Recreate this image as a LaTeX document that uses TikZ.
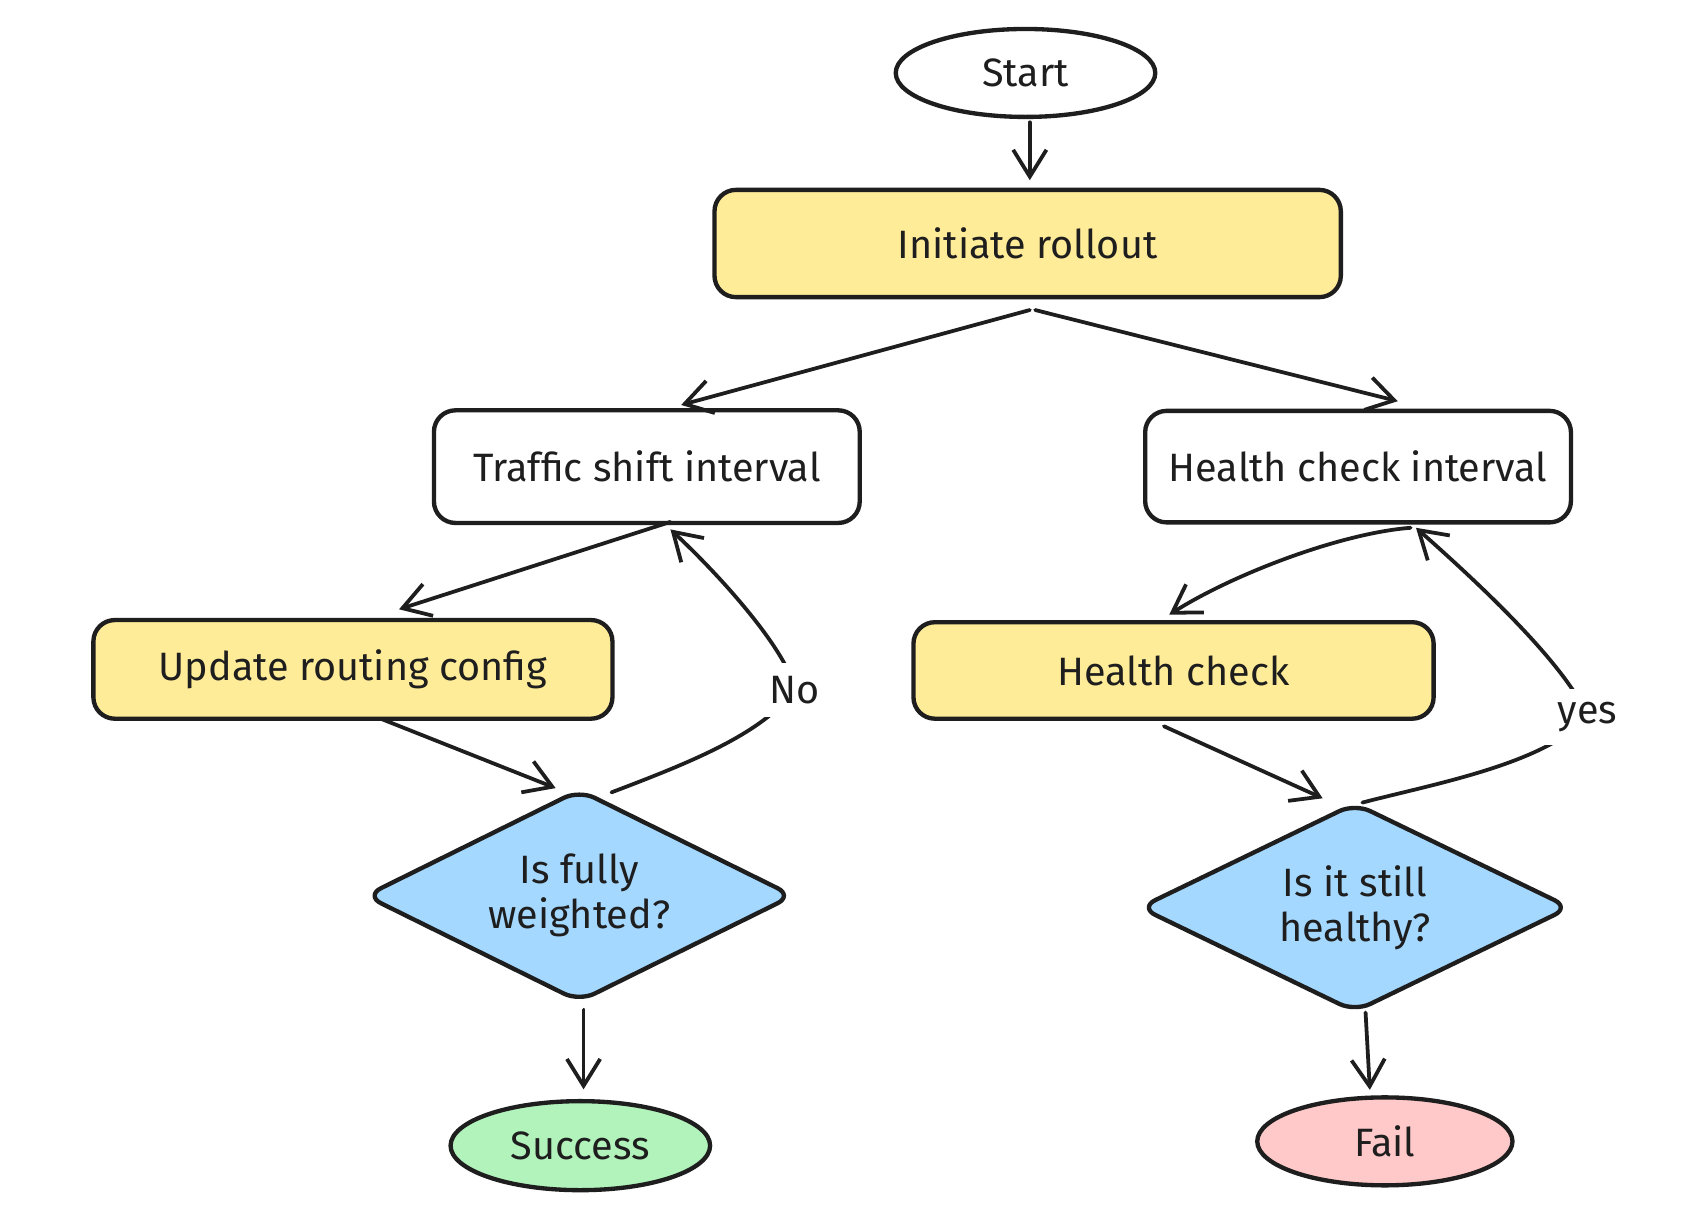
\documentclass[tikz,border=0pt]{standalone}
\usepackage{fontspec}
\setmainfont{Fira Sans}
\usetikzlibrary{shapes.geometric,arrows.meta,calc}
\definecolor{ink}{HTML}{1E1E1E}
\definecolor{yel}{HTML}{FFEC99}
\definecolor{blu}{HTML}{A5D8FF}
\definecolor{grn}{HTML}{B2F2BB}
\definecolor{pnk}{HTML}{FFC9C9}
\begin{document}
\begin{tikzpicture}[x=0.02cm,y=-0.02cm,
  txt/.style={font=\fontsize{21}{24}\selectfont,text=ink},
  box/.style={txt,draw=ink,line width=2.3pt,rounded corners=0.4cm,inner sep=0pt},
  oval/.style={txt,ellipse,draw=ink,line width=2.3pt,inner sep=0pt},
  dia/.style={txt,rectangle,inner sep=0pt,align=center},
  diaedge/.style={draw=ink,fill=blu,line width=2.3pt,rounded corners=9pt,line join=round},
  conn/.style={draw=ink,line width=2pt,line cap=round,-{Straight Barb[length=0.5cm,width=0.62cm,line width=2pt]}},
  lbl/.style={txt,fill=white,inner sep=7pt}]
\useasboundingbox (0,0) rectangle (1568,1143);
\fill[white] (0,0) rectangle (1568,1143);

\node[oval,minimum width=4.84cm,minimum height=1.64cm] (start) at (956,68) {Start};
\node[box,fill=yel,minimum width=11.68cm,minimum height=2cm] (init) at (958,227) {Initiate rollout};
\node[box,fill=white,minimum width=7.94cm,minimum height=2.1cm] (traffic) at (603,435) {Traffic shift interval};
\node[box,fill=white,minimum width=7.94cm,minimum height=2.08cm] (hci) at (1266,435) {Health check interval};
\node[box,fill=yel,minimum width=9.68cm,minimum height=1.84cm] (update) at (329,624) {Update routing config};
\node[box,fill=yel,minimum width=9.7cm,minimum height=1.8cm] (hc) at (1094,625) {Health check};

\node[dia,minimum width=7.95cm,minimum height=3.92cm] (d1) at (540,835) {};
\path[diaedge] (d1.north) -- (d1.east) -- (d1.south) -- (d1.west) -- cycle;
\node[txt,align=center] at (d1.center) {Is fully\\weighted?};
\node[dia,minimum width=8.0cm,minimum height=3.86cm] (d2) at (1263,846) {};
\path[diaedge] (d2.north) -- (d2.east) -- (d2.south) -- (d2.west) -- cycle;
\node[txt,align=center] at (d2.center) {Is it still\\healthy?};

\node[oval,fill=grn,minimum width=4.84cm,minimum height=1.66cm] (success) at (541,1068) {Success};
\node[oval,fill=pnk,minimum width=4.76cm,minimum height=1.64cm] (fail) at (1291,1064) {Fail};

\draw[conn] ($(start.south)+(4,3)$) -- ($(init.north)+(2,-7)$);
\draw[conn] ($(init.south)+(2,10)$) -- ($(traffic.north)+(32,-3)$);
\draw[conn] ($(init.south)+(7,10)$) -- ($(hci.north)+(37,-7)$);
\draw[conn] ($(traffic.south)+(22,-3)$) -- ($(update.north)+(43,-8)$);
\draw[conn] ($(update.south)+(26,-2)$) -- ($(d1.north)+(-22,-2)$);
\draw[conn] ($(d1.north)+(30,2)$) .. controls (640,712) and (710,685) .. (741,643) node[lbl] {No}
   .. controls (735,610) and (680,545) .. ($(traffic.south)+(22,4)$);
\draw[conn] ($(d1.south)+(4,8)$) -- ($(success.north)+(3,-9)$);
\draw[conn] ($(hci.south)+(49,3)$) .. controls (1250,497) and (1150,535) .. ($(hc.north)+(-4,-5)$);
\draw[conn] ($(hc.south)+(-9,5)$) -- ($(d2.north)+(-30,-5)$);
\draw[conn] ($(d2.north)+(7,-1)$) .. controls (1340,730) and (1440,712) .. (1480,668) node[lbl] {yes}
   .. controls (1460,620) and (1380,545) .. ($(hci.south)+(54,3)$);
\draw[conn] ($(d2.south)+(10,1)$) -- ($(fail.north)+(-14,-5)$);
\end{tikzpicture}
\end{document}
